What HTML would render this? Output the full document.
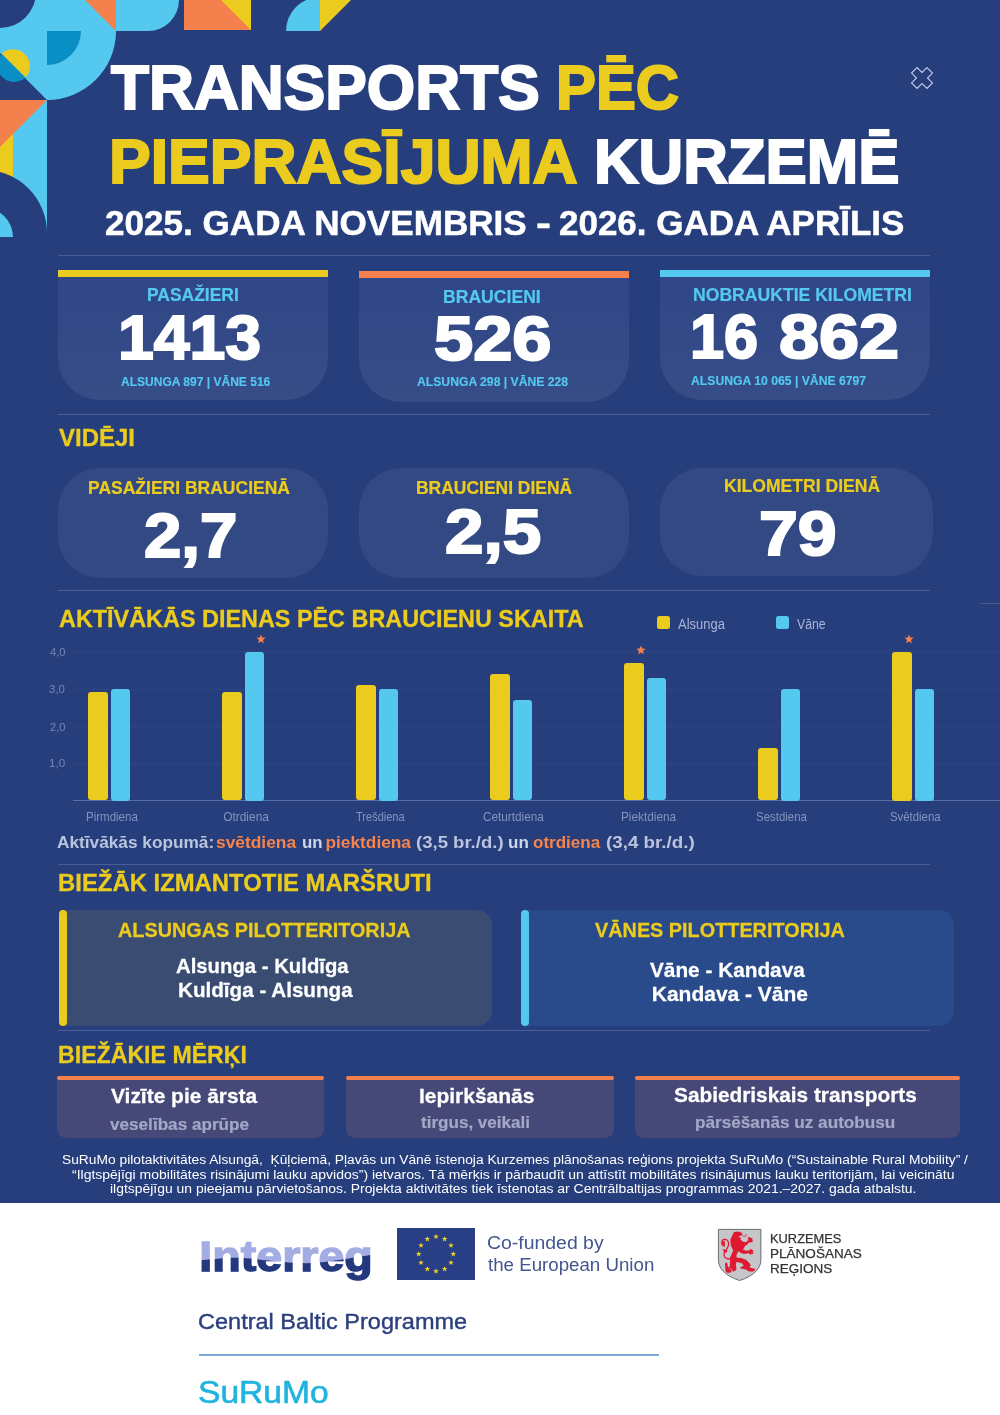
<!DOCTYPE html>
<html lang="lv">
<head>
<meta charset="utf-8">
<title>Transports pēc pieprasījuma Kurzemē</title>
<style>
html,body{margin:0;padding:0;background:#fff;}
body{width:1000px;height:1415px;position:relative;overflow:hidden;font-family:"Liberation Sans",sans-serif;}
#navy{position:absolute;left:0;top:0;width:1000px;height:1202.5px;background:#263e7c;}
.t{position:absolute;white-space:nowrap;line-height:1;transform-origin:0 0;}
.sep{position:absolute;left:57.5px;width:872.5px;height:1px;background:#4a5f9a;}
.abs{position:absolute;}
.card{position:absolute;background:#334984;}
.sc{background:linear-gradient(#2f4688,#374d86);}
.bar{position:absolute;border-radius:3px;}
.by{background:#ebcb1e;}
.bb{background:#55c8f0;}
.grid{position:absolute;left:72.5px;width:927.5px;height:1px;background:#2e4584;}
</style>
</head>
<body>
<div id="navy"></div>

<!-- decorative corner -->
<svg class="abs" style="left:0;top:0" width="360" height="240" viewBox="0 0 360 240">
  <defs><clipPath id="cin"><rect x="0" y="0" width="13" height="237"/></clipPath></defs>
  <path d="M0,0 H116 V31 A69,69 0 0 1 47,100 L0,53 Z" fill="#55c8f0"/>
  <circle cx="0" cy="-8" r="36" fill="#263e7c"/>
  <path d="M47,31 H81 A34,34 0 0 1 47,65 Z" fill="#0a8fc4"/>
  <path d="M25.6,77.6 A17,17 0 0 1 1.6,53.6 Z" fill="#0a8fc4"/>
  <path d="M1.6,53.6 A17,17 0 0 1 25.6,77.6 Z" fill="#ebcb1e"/>
  <path d="M85,0 H116 V31 Z" fill="#f4814d"/>
  <path d="M116,0 H179 A31,31 0 0 1 148,31 H116 Z" fill="#55c8f0"/>
  <path d="M184,0 H251 V30 H184 Z" fill="#f4814d"/>
  <path d="M221,0 H251 V30 Z" fill="#ebcb1e"/>
  <path d="M286,31 A34,34 0 0 1 320,-3 V31 Z" fill="#55c8f0"/>
  <path d="M320,0 H351 L320,31 Z" fill="#ebcb1e"/>
  <path d="M13,100 H47 V233 H13 Z" fill="#55c8f0"/>
  <path d="M0,100 H13 V233 H0 Z" fill="#ebcb1e"/>
  <path d="M0,100 H47 L0,147 Z" fill="#f4814d"/>
  <circle cx="-16" cy="233" r="63" fill="#263e7c"/>
  <circle cx="-16" cy="237" r="29" fill="#55c8f0" clip-path="url(#cin)"/>
</svg>

<!-- x icon -->
<svg class="abs" style="left:902px;top:58px" width="40" height="40" viewBox="-20 -20 40 40">
  <g transform="rotate(45)"><path d="M-3.9,-10.9 H3.9 V-3.9 H10.9 V3.9 H3.9 V10.9 H-3.9 V3.9 H-10.9 V-3.9 H-3.9 Z" fill="none" stroke="#c0c9e6" stroke-width="1.15" stroke-linejoin="miter"/></g>
</svg>

<!-- separators -->
<div class="sep" style="top:255px"></div>
<div class="sep" style="top:414px"></div>
<div class="sep" style="top:590.3px"></div>
<div class="sep" style="top:863.5px"></div>
<div class="sep" style="top:1030.4px"></div>

<!-- stat cards -->
<div class="card sc" style="left:57.5px;top:270px;width:270px;height:130px;border-radius:0 0 42px 42px"></div>
<div class="abs" style="left:57.5px;top:270px;width:270px;height:7px;background:#ebcb1e"></div>
<div class="card sc" style="left:358.5px;top:271px;width:270.5px;height:131px;border-radius:0 0 42px 42px"></div>
<div class="abs" style="left:358.5px;top:271px;width:270.5px;height:7px;background:#f4814d"></div>
<div class="card sc" style="left:660px;top:270px;width:270px;height:130px;border-radius:0 0 42px 42px"></div>
<div class="abs" style="left:660px;top:270px;width:270px;height:7px;background:#55c8f0"></div>

<!-- pills -->
<div class="card" style="left:57.5px;top:468.2px;width:270.3px;height:110px;border-radius:42px"></div>
<div class="card" style="left:358.5px;top:467.5px;width:270.5px;height:110px;border-radius:42px"></div>
<div class="card" style="left:660px;top:467.5px;width:272.5px;height:108.5px;border-radius:42px"></div>

<!-- chart -->
<div class="grid" style="top:651px"></div>
<div class="grid" style="top:688.5px"></div>
<div class="grid" style="top:726px"></div>
<div class="grid" style="top:763.5px"></div>
<div class="grid" style="top:800px;background:#5a6fa8"></div>
<div class="abs" style="left:980px;top:603.3px;width:20px;height:1px;background:#43598f"></div>
<div class="bar by" style="left:88.25px;top:692.48px;width:19.5px;height:108.02px"></div>
<div class="bar bb" style="left:110.50px;top:688.75px;width:19.5px;height:111.75px"></div>
<div class="bar by" style="left:222.25px;top:692.48px;width:19.5px;height:108.02px"></div>
<div class="bar bb" style="left:244.50px;top:651.50px;width:19.5px;height:149.00px"></div>
<svg class="abs" style="left:255.20px;top:632.50px" width="12" height="12" viewBox="-6 -6 12 12"><polygon points="0.00,-4.60 1.23,-1.40 4.66,-1.21 2.00,0.95 2.88,4.26 0.00,2.40 -2.88,4.26 -2.00,0.95 -4.66,-1.21 -1.23,-1.40" fill="#f4814d"/></svg>
<div class="bar by" style="left:356.25px;top:685.02px;width:19.5px;height:115.48px"></div>
<div class="bar bb" style="left:378.50px;top:688.75px;width:19.5px;height:111.75px"></div>
<div class="bar by" style="left:490.25px;top:673.85px;width:19.5px;height:126.65px"></div>
<div class="bar bb" style="left:512.50px;top:699.92px;width:19.5px;height:100.58px"></div>
<div class="bar by" style="left:624.25px;top:662.67px;width:19.5px;height:137.83px"></div>
<div class="bar bb" style="left:646.50px;top:677.58px;width:19.5px;height:122.92px"></div>
<svg class="abs" style="left:634.95px;top:643.67px" width="12" height="12" viewBox="-6 -6 12 12"><polygon points="0.00,-4.60 1.23,-1.40 4.66,-1.21 2.00,0.95 2.88,4.26 0.00,2.40 -2.88,4.26 -2.00,0.95 -4.66,-1.21 -1.23,-1.40" fill="#f4814d"/></svg>
<div class="bar by" style="left:758.25px;top:748.35px;width:19.5px;height:52.15px"></div>
<div class="bar bb" style="left:780.50px;top:688.75px;width:19.5px;height:111.75px"></div>
<div class="bar by" style="left:892.25px;top:651.50px;width:19.5px;height:149.00px"></div>
<div class="bar bb" style="left:914.50px;top:688.75px;width:19.5px;height:111.75px"></div>
<svg class="abs" style="left:902.95px;top:632.50px" width="12" height="12" viewBox="-6 -6 12 12"><polygon points="0.00,-4.60 1.23,-1.40 4.66,-1.21 2.00,0.95 2.88,4.26 0.00,2.40 -2.88,4.26 -2.00,0.95 -4.66,-1.21 -1.23,-1.40" fill="#f4814d"/></svg>
<div class="abs by" style="left:657.2px;top:615.8px;width:13.3px;height:13.5px;border-radius:2.5px"></div>
<div class="abs bb" style="left:776.2px;top:615.8px;width:13.3px;height:13.5px;border-radius:2.5px"></div>

<!-- routes -->
<div class="abs" style="left:62px;top:910px;width:430.2px;height:115.5px;background:#3a4c72;border-radius:0 15px 15px 0"></div>
<div class="abs" style="left:58.9px;top:909.7px;width:8px;height:116.4px;background:#ebcb1e;border-radius:4px"></div>
<div class="abs" style="left:525px;top:910px;width:429px;height:115.5px;background:#2a4b8b;border-radius:0 15px 15px 0"></div>
<div class="abs" style="left:521px;top:909.7px;width:7.8px;height:116.4px;background:#55c8f0;border-radius:4px"></div>

<!-- goals -->
<div class="abs" style="left:56.5px;top:1078px;width:267.5px;height:59.5px;background:#464878;border-radius:0 0 9px 9px"></div>
<div class="abs" style="left:56.5px;top:1076px;width:267.5px;height:4px;background:#f4814d;border-radius:2px"></div>
<div class="abs" style="left:346px;top:1078px;width:268px;height:59.5px;background:#464878;border-radius:0 0 9px 9px"></div>
<div class="abs" style="left:346px;top:1076px;width:268px;height:4px;background:#f4814d;border-radius:2px"></div>
<div class="abs" style="left:635px;top:1078px;width:325px;height:59.5px;background:#464878;border-radius:0 0 9px 9px"></div>
<div class="abs" style="left:635px;top:1076px;width:325px;height:4px;background:#f4814d;border-radius:2px"></div>

<svg class="abs" style="left:190px;top:1215px" width="300" height="85" viewBox="190 1215 300 85">
  <defs><clipPath id="wave"><path d="M190,1261.5 C 215,1259 232,1256.5 250,1258.5 C 275,1261.5 300,1265 325,1262 C 345,1259.5 360,1256 380,1254 V1300 H190 Z"/></clipPath></defs>
  <text x="199.3" y="1270.5" font-family="Liberation Sans, sans-serif" font-weight="700" font-size="42" textLength="173.5" lengthAdjust="spacingAndGlyphs" fill="#a3ade3" stroke="#a3ade3" stroke-width="1.3">Interreg</text>
  <text x="199.3" y="1270.5" font-family="Liberation Sans, sans-serif" font-weight="700" font-size="42" textLength="173.5" lengthAdjust="spacingAndGlyphs" fill="#24387e" stroke="#24387e" stroke-width="1.3" clip-path="url(#wave)">Interreg</text>
</svg>
<svg class="abs" style="left:397px;top:1227.5px" width="78" height="52" viewBox="397 1227.5 78 52">
  <rect x="397" y="1227.5" width="78" height="52" fill="#283f86"/>
  <polygon points="436.00,1233.20 436.67,1235.27 438.85,1235.27 437.09,1236.55 437.76,1238.63 436.00,1237.35 434.24,1238.63 434.91,1236.55 433.15,1235.27 435.33,1235.27" fill="#f5d423"/><polygon points="444.65,1235.52 445.32,1237.59 447.50,1237.59 445.74,1238.87 446.41,1240.94 444.65,1239.66 442.89,1240.94 443.56,1238.87 441.80,1237.59 443.98,1237.59" fill="#f5d423"/><polygon points="450.98,1241.85 451.66,1243.92 453.84,1243.92 452.07,1245.20 452.75,1247.28 450.98,1246.00 449.22,1247.28 449.89,1245.20 448.13,1243.92 450.31,1243.92" fill="#f5d423"/><polygon points="453.30,1250.50 453.97,1252.57 456.15,1252.57 454.39,1253.85 455.06,1255.93 453.30,1254.65 451.54,1255.93 452.21,1253.85 450.45,1252.57 452.63,1252.57" fill="#f5d423"/><polygon points="450.98,1259.15 451.66,1261.22 453.84,1261.22 452.07,1262.50 452.75,1264.58 450.98,1263.30 449.22,1264.58 449.89,1262.50 448.13,1261.22 450.31,1261.22" fill="#f5d423"/><polygon points="444.65,1265.48 445.32,1267.56 447.50,1267.56 445.74,1268.84 446.41,1270.91 444.65,1269.63 442.89,1270.91 443.56,1268.84 441.80,1267.56 443.98,1267.56" fill="#f5d423"/><polygon points="436.00,1267.80 436.67,1269.87 438.85,1269.87 437.09,1271.15 437.76,1273.23 436.00,1271.95 434.24,1273.23 434.91,1271.15 433.15,1269.87 435.33,1269.87" fill="#f5d423"/><polygon points="427.35,1265.48 428.02,1267.56 430.20,1267.56 428.44,1268.84 429.11,1270.91 427.35,1269.63 425.59,1270.91 426.26,1268.84 424.50,1267.56 426.68,1267.56" fill="#f5d423"/><polygon points="421.02,1259.15 421.69,1261.22 423.87,1261.22 422.11,1262.50 422.78,1264.58 421.02,1263.30 419.25,1264.58 419.93,1262.50 418.16,1261.22 420.34,1261.22" fill="#f5d423"/><polygon points="418.70,1250.50 419.37,1252.57 421.55,1252.57 419.79,1253.85 420.46,1255.93 418.70,1254.65 416.94,1255.93 417.61,1253.85 415.85,1252.57 418.03,1252.57" fill="#f5d423"/><polygon points="421.02,1241.85 421.69,1243.92 423.87,1243.92 422.11,1245.20 422.78,1247.28 421.02,1246.00 419.25,1247.28 419.93,1245.20 418.16,1243.92 420.34,1243.92" fill="#f5d423"/><polygon points="427.35,1235.52 428.02,1237.59 430.20,1237.59 428.44,1238.87 429.11,1240.94 427.35,1239.66 425.59,1240.94 426.26,1238.87 424.50,1237.59 426.68,1237.59" fill="#f5d423"/>
</svg>
<div class="abs" style="left:199px;top:1354.4px;width:460px;height:1.2px;background:#7fa9d6"></div>
<svg class="abs" style="left:710px;top:1222px" width="60" height="66" viewBox="0 0 1000 1100">
  <path d="M140,123 H848 V640 C848,760 740,900 494,975 C248,900 140,760 140,640 Z" fill="#c4c6ca" stroke="#55575c" stroke-width="14"/>
  <g fill="#df1a30">
   <path d="M400,165 L470,158 L540,185 L532,215 L470,248 L522,262 L505,288 L560,340 L585,400 L560,445 L520,470 L470,492 L440,560 L450,640 L432,700 L440,800 L385,830 L360,790 L372,700 L338,660 L330,600 L368,520 L385,470 L350,400 L338,300 L368,228 Z"/>
   <path d="M535,325 L598,338 L640,300 L628,262 L660,248 L682,268 L712,272 L702,300 L722,320 L692,337 L652,342 L602,392 L560,392 Z"/>
   <path d="M515,440 L600,478 L660,470 L680,443 L700,468 L732,480 L712,505 L722,537 L690,530 L670,552 L648,522 L560,532 L480,502 Z"/>
   <path d="M430,592 L520,600 L600,628 L660,688 L682,730 L652,742 L682,768 L742,775 L752,800 L722,826 L650,826 L600,792 L510,776 L500,760 L560,730 L540,692 L470,672 L430,662 Z"/>
   <path d="M335,640 L380,700 L375,790 L330,770 L312,772 L352,790 L362,812 L350,842 L290,852 L260,822 L250,700 L268,668 L292,700 L300,760 L330,742 Z"/>
   <path d="M345,615 C 265,625 222,585 236,525 C 246,482 300,442 310,382 C 318,322 282,282 232,292 C 195,300 190,345 212,365" fill="none" stroke="#df1a30" stroke-width="22" stroke-linecap="round"/>
   <path d="M195,330 L250,318 L245,420 L215,400 L190,380 Z"/>
   <path d="M205,450 L290,470 L280,510 L235,500 Z"/>
   <path d="M540,225 C 570,250 610,250 608,220 C 606,205 590,205 585,212" fill="none" stroke="#df1a30" stroke-width="12" stroke-linecap="round"/>
  </g>
</svg>

<div class="t" style="left:110.78px;top:55.59px;font-size:63.30px;font-weight:700;color:#fff;-webkit-text-stroke:2.05px #fff;transform:scaleX(0.9830);">TRANSPORTS</div>
<div class="t" style="left:556.37px;top:55.59px;font-size:63.30px;font-weight:700;color:#ebcb1e;-webkit-text-stroke:2.05px #ebcb1e;transform:scaleX(0.9449);">PĒC</div>
<div class="t" style="left:109.04px;top:129.89px;font-size:63.30px;font-weight:700;color:#ebcb1e;-webkit-text-stroke:2.05px #ebcb1e;transform:scaleX(0.9871);">PIEPRASĪJUMA</div>
<div class="t" style="left:593.87px;top:129.89px;font-size:63.30px;font-weight:700;color:#fff;-webkit-text-stroke:2.05px #fff;transform:scaleX(0.9761);">KURZEMĒ</div>
<div class="t" style="left:105.35px;top:205.98px;font-size:35.61px;font-weight:700;color:#fff;-webkit-text-stroke:0.50px #fff;transform:scaleX(0.9851);">2025. GADA NOVEMBRIS</div>
<div class="t" style="left:535.74px;top:205.98px;font-size:35.61px;font-weight:700;color:#fff;-webkit-text-stroke:0.50px #fff;transform:scaleX(1.2600);">-</div>
<div class="t" style="left:559.05px;top:205.98px;font-size:35.61px;font-weight:700;color:#fff;-webkit-text-stroke:0.50px #fff;transform:scaleX(0.9821);">2026. GADA APRĪLIS</div>
<div class="t" style="left:146.92px;top:286.98px;font-size:17.84px;font-weight:700;color:#55c8f0;-webkit-text-stroke:0.22px #55c8f0;transform:scaleX(0.9783);">PASAŽIERI</div>
<div class="t" style="left:118.05px;top:306.04px;font-size:62.76px;font-weight:700;color:#fff;-webkit-text-stroke:2.07px #fff;transform:scaleX(1.0254);">1413</div>
<div class="t" style="left:121.00px;top:375.93px;font-size:12.28px;font-weight:700;color:#55c8f0;-webkit-text-stroke:0.15px #55c8f0;transform:scaleX(0.9803);">ALSUNGA 897 | VĀNE 516</div>
<div class="t" style="left:443.31px;top:288.98px;font-size:17.84px;font-weight:700;color:#55c8f0;-webkit-text-stroke:0.22px #55c8f0;transform:scaleX(0.9866);">BRAUCIENI</div>
<div class="t" style="left:433.85px;top:306.84px;font-size:62.76px;font-weight:700;color:#fff;-webkit-text-stroke:2.07px #fff;transform:scaleX(1.1228);">526</div>
<div class="t" style="left:416.70px;top:375.73px;font-size:12.28px;font-weight:700;color:#55c8f0;-webkit-text-stroke:0.15px #55c8f0;transform:scaleX(0.9921);">ALSUNGA 298 | VĀNE 228</div>
<div class="t" style="left:693.00px;top:287.03px;font-size:17.56px;font-weight:700;color:#55c8f0;-webkit-text-stroke:0.22px #55c8f0;transform:scaleX(1.0025);">NOBRAUKTIE KILOMETRI</div>
<div class="t" style="left:689.80px;top:305.24px;font-size:62.76px;font-weight:700;color:#fff;-webkit-text-stroke:2.07px #fff;transform:scaleX(0.9740);">16</div>
<div class="t" style="left:778.85px;top:305.24px;font-size:62.76px;font-weight:700;color:#fff;-webkit-text-stroke:2.07px #fff;transform:scaleX(1.1474);">862</div>
<div class="t" style="left:691.00px;top:374.53px;font-size:12.28px;font-weight:700;color:#55c8f0;-webkit-text-stroke:0.15px #55c8f0;transform:scaleX(0.9943);">ALSUNGA 10 065 | VĀNE 6797</div>
<div class="t" style="left:58.50px;top:425.51px;font-size:24.26px;font-weight:700;color:#ebcb1e;-webkit-text-stroke:0.31px #ebcb1e;transform:scaleX(0.9878);">VIDĒJI</div>
<div class="t" style="left:58.50px;top:606.81px;font-size:24.26px;font-weight:700;color:#ebcb1e;-webkit-text-stroke:0.31px #ebcb1e;transform:scaleX(0.9648);">AKTĪVĀKĀS DIENAS PĒC BRAUCIENU SKAITA</div>
<div class="t" style="left:57.82px;top:871.11px;font-size:24.26px;font-weight:700;color:#ebcb1e;-webkit-text-stroke:0.31px #ebcb1e;transform:scaleX(0.9846);">BIEŽĀK IZMANTOTIE MARŠRUTI</div>
<div class="t" style="left:58.05px;top:1042.61px;font-size:24.26px;font-weight:700;color:#ebcb1e;-webkit-text-stroke:0.31px #ebcb1e;transform:scaleX(0.9541);">BIEŽĀKIE MĒRĶI</div>
<div class="t" style="left:88.21px;top:479.71px;font-size:17.70px;font-weight:700;color:#ebcb1e;-webkit-text-stroke:0.22px #ebcb1e;transform:scaleX(0.9897);">PASAŽIERI BRAUCIENĀ</div>
<div class="t" style="left:143.93px;top:503.81px;font-size:63.03px;font-weight:700;color:#fff;-webkit-text-stroke:2.08px #fff;transform:scaleX(1.0659);">2,7</div>
<div class="t" style="left:415.71px;top:480.03px;font-size:17.56px;font-weight:700;color:#ebcb1e;-webkit-text-stroke:0.22px #ebcb1e;transform:scaleX(0.9949);">BRAUCIENI DIENĀ</div>
<div class="t" style="left:444.61px;top:499.67px;font-size:63.30px;font-weight:700;color:#fff;-webkit-text-stroke:2.09px #fff;transform:scaleX(1.0932);">2,5</div>
<div class="t" style="left:724.01px;top:477.91px;font-size:17.70px;font-weight:700;color:#ebcb1e;-webkit-text-stroke:0.22px #ebcb1e;transform:scaleX(0.9936);">KILOMETRI DIENĀ</div>
<div class="t" style="left:759.22px;top:501.84px;font-size:62.76px;font-weight:700;color:#fff;-webkit-text-stroke:2.07px #fff;transform:scaleX(1.1128);">79</div>
<div class="t" style="left:49.50px;top:646.97px;font-size:10.71px;font-weight:400;color:#7687b5;transform:scaleX(1.0333);">4,0</div>
<div class="t" style="left:48.92px;top:683.93px;font-size:10.71px;font-weight:400;color:#7687b5;transform:scaleX(1.0723);">3,0</div>
<div class="t" style="left:49.50px;top:721.97px;font-size:10.71px;font-weight:400;color:#7687b5;transform:scaleX(1.0333);">2,0</div>
<div class="t" style="left:48.62px;top:758.43px;font-size:10.71px;font-weight:400;color:#7687b5;transform:scaleX(1.0922);">1,0</div>
<div class="t" style="left:85.81px;top:812.41px;font-size:11.92px;font-weight:400;color:#8594c0;transform:scaleX(0.9664);">Pirmdiena</div>
<div class="t" style="left:223.22px;top:812.41px;font-size:11.92px;font-weight:400;color:#8594c0;">Otrdiena</div>
<div class="t" style="left:356.20px;top:812.43px;font-size:11.92px;font-weight:400;color:#8594c0;transform:scaleX(0.9260);">Trešdiena</div>
<div class="t" style="left:483.43px;top:812.41px;font-size:11.92px;font-weight:400;color:#8594c0;transform:scaleX(0.9868);">Ceturtdiena</div>
<div class="t" style="left:620.54px;top:812.41px;font-size:11.92px;font-weight:400;color:#8594c0;transform:scaleX(0.9906);">Piektdiena</div>
<div class="t" style="left:756.19px;top:812.41px;font-size:11.92px;font-weight:400;color:#8594c0;transform:scaleX(0.9605);">Sestdiena</div>
<div class="t" style="left:890.30px;top:812.41px;font-size:11.92px;font-weight:400;color:#8594c0;transform:scaleX(0.9547);">Svētdiena</div>
<div class="t" style="left:677.80px;top:617.12px;font-size:14.39px;font-weight:400;color:#aab4d7;transform:scaleX(0.9019);">Alsunga</div>
<div class="t" style="left:797.30px;top:617.12px;font-size:14.39px;font-weight:400;color:#aab4d7;transform:scaleX(0.8545);">Vāne</div>
<div class="t" style="left:57.14px;top:833.76px;font-size:17.30px;font-weight:700;color:#bbc4de;transform:scaleX(0.9978);">Aktīvākās kopumā:</div>
<div class="t" style="left:216.43px;top:833.76px;font-size:17.30px;font-weight:700;color:#f7844b;transform:scaleX(1.0046);">svētdiena</div>
<div class="t" style="left:301.72px;top:833.76px;font-size:17.30px;font-weight:700;color:#cfd6e8;transform:scaleX(0.9789);">un</div>
<div class="t" style="left:325.50px;top:833.76px;font-size:17.30px;font-weight:700;color:#f7844b;">piektdiena</div>
<div class="t" style="left:415.81px;top:833.76px;font-size:17.30px;font-weight:700;color:#bbc4de;transform:scaleX(1.0727);">(3,5 br./d.)</div>
<div class="t" style="left:508.22px;top:833.76px;font-size:17.30px;font-weight:700;color:#cfd6e8;transform:scaleX(0.9842);">un</div>
<div class="t" style="left:532.66px;top:833.76px;font-size:17.30px;font-weight:700;color:#f7844b;transform:scaleX(0.9857);">otrdiena</div>
<div class="t" style="left:605.50px;top:833.76px;font-size:17.30px;font-weight:700;color:#bbc4de;transform:scaleX(1.0865);">(3,4 br./d.)</div>
<div class="t" style="left:117.80px;top:918.87px;font-size:21.12px;font-weight:700;color:#ebcb1e;-webkit-text-stroke:0.27px #ebcb1e;transform:scaleX(0.9388);">ALSUNGAS PILOTTERITORIJA</div>
<div class="t" style="left:176.20px;top:955.11px;font-size:20.98px;font-weight:700;color:#fff;-webkit-text-stroke:0.26px #fff;transform:scaleX(0.9687);">Alsunga - Kuldīga</div>
<div class="t" style="left:177.62px;top:979.31px;font-size:20.98px;font-weight:700;color:#fff;-webkit-text-stroke:0.26px #fff;transform:scaleX(0.9842);">Kuldīga - Alsunga</div>
<div class="t" style="left:594.60px;top:918.87px;font-size:21.12px;font-weight:700;color:#ebcb1e;-webkit-text-stroke:0.27px #ebcb1e;transform:scaleX(0.9398);">VĀNES PILOTTERITORIJA</div>
<div class="t" style="left:650.20px;top:959.11px;font-size:20.98px;font-weight:700;color:#fff;-webkit-text-stroke:0.26px #fff;transform:scaleX(0.9911);">Vāne - Kandava</div>
<div class="t" style="left:651.80px;top:983.11px;font-size:20.98px;font-weight:700;color:#fff;-webkit-text-stroke:0.26px #fff;">Kandava - Vāne</div>
<div class="t" style="left:110.90px;top:1085.11px;font-size:20.98px;font-weight:700;color:#fff;-webkit-text-stroke:0.26px #fff;transform:scaleX(0.9980);">Vizīte pie ārsta</div>
<div class="t" style="left:110.01px;top:1116.25px;font-size:16.13px;font-weight:700;color:#a3a8c6;-webkit-text-stroke:0.20px #a3a8c6;transform:scaleX(1.0637);">veselības aprūpe</div>
<div class="t" style="left:419.00px;top:1085.11px;font-size:20.98px;font-weight:700;color:#fff;-webkit-text-stroke:0.26px #fff;">Iepirkšanās</div>
<div class="t" style="left:421.00px;top:1114.25px;font-size:16.13px;font-weight:700;color:#a3a8c6;-webkit-text-stroke:0.20px #a3a8c6;transform:scaleX(1.0588);">tirgus, veikali</div>
<div class="t" style="left:673.50px;top:1083.59px;font-size:20.98px;font-weight:700;color:#fff;-webkit-text-stroke:0.26px #fff;transform:scaleX(0.9922);">Sabiedriskais transports</div>
<div class="t" style="left:694.56px;top:1113.95px;font-size:16.13px;font-weight:700;color:#a3a8c6;-webkit-text-stroke:0.20px #a3a8c6;transform:scaleX(1.0657);">pārsēšanās uz autobusu</div>
<div class="t" style="left:61.79px;top:1152.73px;font-size:13.08px;font-weight:400;color:#fff;transform:scaleX(1.0543);white-space:pre;">SuRuMo pilotaktivitātes Alsungā,  Ķūļciemā, Pļavās un Vānē īstenoja Kurzemes plānošanas reģions projekta SuRuMo (“Sustainable Rural Mobility” /</div>
<div class="t" style="left:72.00px;top:1167.73px;font-size:13.08px;font-weight:400;color:#fff;transform:scaleX(1.0691);">“Ilgtspējīgi mobilitātes risinājumi lauku apvidos”) ietvaros. Tā mērķis ir pārbaudīt un attīstīt mobilitātes risinājumus lauku teritorijām, lai veicinātu</div>
<div class="t" style="left:110.12px;top:1182.33px;font-size:13.08px;font-weight:400;color:#fff;transform:scaleX(1.0646);">ilgtspējīgu un pieejamu pārvietošanos. Projekta aktivitātes tiek īstenotas ar Centrālbaltijas programmas 2021.–2027. gada atbalstu.</div>
<div class="t" style="left:487.42px;top:1235.24px;font-size:17.44px;font-weight:400;color:#42568f;transform:scaleX(1.1141);">Co-funded by</div>
<div class="t" style="left:488.40px;top:1257.24px;font-size:17.44px;font-weight:400;color:#42568f;transform:scaleX(1.0720);">the European Union</div>
<div class="t" style="left:197.92px;top:1310.54px;font-size:21.80px;font-weight:400;color:#2a3f7c;transform:scaleX(1.0786);-webkit-text-stroke:0.4px #2a3f7c;">Central Baltic Programme</div>
<div class="t" style="left:197.92px;top:1376.87px;font-size:31.10px;font-weight:400;color:#1fb4de;-webkit-text-stroke:0.60px #1fb4de;transform:scaleX(1.0798);">SuRuMo</div>
<div class="t" style="left:770.13px;top:1232.56px;font-size:12.43px;font-weight:400;color:#333337;-webkit-text-stroke:0.25px #333337;transform:scaleX(1.0344);">KURZEMES</div>
<div class="t" style="left:770.08px;top:1247.56px;font-size:12.43px;font-weight:400;color:#333337;-webkit-text-stroke:0.25px #333337;transform:scaleX(1.0895);">PLĀNOŠANAS</div>
<div class="t" style="left:770.08px;top:1262.96px;font-size:12.43px;font-weight:400;color:#333337;-webkit-text-stroke:0.25px #333337;transform:scaleX(1.0880);">REĢIONS</div>
</body>
</html>
